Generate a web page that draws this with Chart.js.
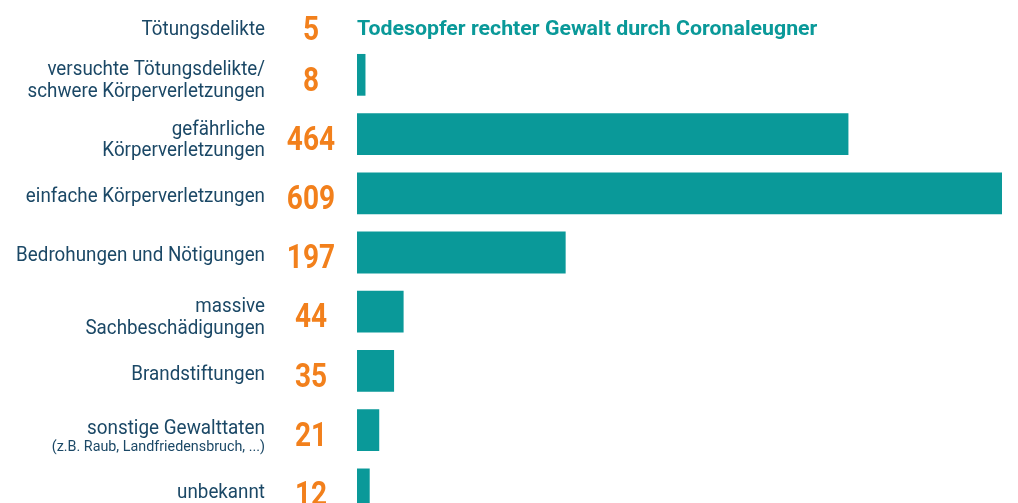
<!DOCTYPE html>
<html>
<head>
<meta charset="utf-8">
<script src="https://cdn.jsdelivr.net/npm/chart.js@4/dist/chart.umd.min.js"></script>
<style>
  html, body { margin: 0; padding: 0; background: #fff; overflow: hidden; }
  #wrap { position: absolute; left: 0; top: -30px; width: 1018px; height: 560px; }
</style>
</head>
<body>
<div id="wrap"><canvas id="gewalt"></canvas></div>
<script>
// Daten aus der Grafik
var categories = [
  ['Tötungsdelikte'],
  ['versuchte Tötungsdelikte/', 'schwere Körperverletzungen'],
  ['gefährliche', 'Körperverletzungen'],
  ['einfache Körperverletzungen'],
  ['Bedrohungen und Nötigungen'],
  ['massive', 'Sachbeschädigungen'],
  ['Brandstiftungen'],
  ['sonstige Gewalttaten'],
  ['unbekannt']
];
var notes = [null, null, null, null, null, null, null, '(z.B. Raub, Landfriedensbruch, ...)', null];
var values = [5, 8, 464, 609, 197, 44, 35, 21, 12];
var headline = 'Todesopfer rechter Gewalt durch Coronaleugner';

var teal = '#0a9999';
var orange = '#f2801c';
var labelColor = '#1b4866';

// schmale Schrift simulieren (kein Roboto Condensed installiert)
function squeezed(ctx, text, x, y, sx, align) {
  ctx.save();
  ctx.translate(x, y);
  ctx.scale(sx, 1);
  ctx.textAlign = align;
  ctx.fillText(text, 0, 0);
  ctx.restore();
}

var labelsPlugin = {
  id: 'rowLabels',
  afterDatasetsDraw: function(chart) {
    var ctx = chart.ctx;
    var yScale = chart.scales.y;
    var xScale = chart.scales.x;
    ctx.save();
    ctx.textBaseline = 'alphabetic';
    categories.forEach(function(lines, i) {
      var c = yScale.getPixelForValue(i);
      if (i === 0) c += 10.7;
      // Kategorie
      ctx.fillStyle = labelColor;
      ctx.font = '21px Roboto';
      if (notes[i]) {
        squeezed(ctx, lines[0], 265, c + 4, 0.9, 'right');
        ctx.font = '15px Roboto';
        squeezed(ctx, notes[i], 265, c + 20.7, 0.955, 'right');
      } else {
        var n = lines.length;
        lines.forEach(function(line, k) {
          squeezed(ctx, line, 265, c + 8.7 - (n - 1) * 8.2 + k * 21.7, 0.895, 'right');
        });
      }
      // Wert
      ctx.fillStyle = orange;
      ctx.font = 'bold 33px Roboto';
      squeezed(ctx, String(values[i]), 311, c + (i === 0 ? 13.5 : 15.7), 0.85, 'center');
      // Ueberschrift in der ersten Zeile statt Balken
      if (i === 0) {
        ctx.fillStyle = teal;
        ctx.font = 'bold 21px Roboto';
        squeezed(ctx, headline, xScale.left, c + 8.7, 1.015, 'left');
      }
    });
    ctx.restore();
  }
};

var chart = new Chart('gewalt', {
  type: 'bar',
  data: {
    labels: categories,
    datasets: [{
      data: values,
      backgroundColor: function(ctx) {
        return ctx.dataIndex === 0 ? 'rgba(0,0,0,0)' : teal;
      },
      borderWidth: 0,
      categoryPercentage: 1,
      barPercentage: 0.705
    }]
  },
  options: {
    indexAxis: 'y',
    responsive: true,
    maintainAspectRatio: false,
    animation: false,
    layout: { padding: { left: 357, right: 16, top: 16, bottom: 11 } },
    plugins: { legend: { display: false }, tooltip: { enabled: false } },
    scales: {
      x: { display: false, min: 0, max: 609 },
      y: { display: false }
    }
  },
  plugins: [labelsPlugin]
});
</script>
</body>
</html>
